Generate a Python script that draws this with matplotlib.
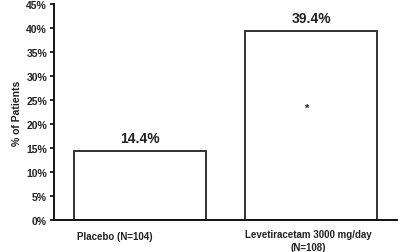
import matplotlib
matplotlib.use("Agg")
import matplotlib.pyplot as plt

# data
groups = ["Placebo (N=104)", "Levetiracetam 3000 mg/day\n(N=108)"]
percents = [14.4, 39.4]
value_labels = ["14.4%", "39.4%"]
yticks = [0, 5, 10, 15, 20, 25, 30, 35, 40, 45]

plt.rcParams['font.family'] = ['Liberation Sans Narrow', 'Liberation Sans', 'DejaVu Sans']
plt.rcParams['font.weight'] = 'bold'
plt.rcParams['axes.labelweight'] = 'bold'

fig = plt.figure(figsize=(4.0, 2.53), dpi=100)
ax = fig.add_axes([0.135, 0.1265, 0.8575, 0.8535])

xpos = [0.25, 0.75]
ax.bar(xpos, percents, width=0.385, color="white", edgecolor="#333333", linewidth=1.4)

for x, v, lab in zip(xpos, percents, value_labels):
    ax.annotate(lab, (x, v), xytext=(0, 4), textcoords="offset points",
                ha="center", va="bottom", fontsize=10, fontweight="bold", color="#222222")

# significance marker
ax.text(0.738, 23.3, "*", ha="center", va="center", fontsize=8, color="#222222")

ax.set_xlim(0, 1)
ax.set_ylim(0, 45)
ax.set_yticks(yticks)
ax.set_yticklabels([f"{t}%" for t in yticks], fontsize=7.5, fontweight="bold", color="#222222")
ax.set_xticks([])
ax.tick_params(axis="y", direction="out", length=3, width=1.2, pad=2)
ax.set_ylabel("% of Patients", fontsize=7.5, fontweight="bold", color="#222222", labelpad=3)

for s in ["top", "right"]:
    ax.spines[s].set_visible(False)
for s in ["left", "bottom"]:
    ax.spines[s].set_linewidth(1.4)
    ax.spines[s].set_color("#111111")

# category labels below the axis
ax.text(0.067, -2.3, groups[0], ha="left", va="top", fontsize=7, color="#222222")
ax.text(0.74, -1.8, groups[1], ha="center", va="top", fontsize=7, color="#222222",
        linespacing=1.4)

fig.savefig("out.png", dpi=100)
